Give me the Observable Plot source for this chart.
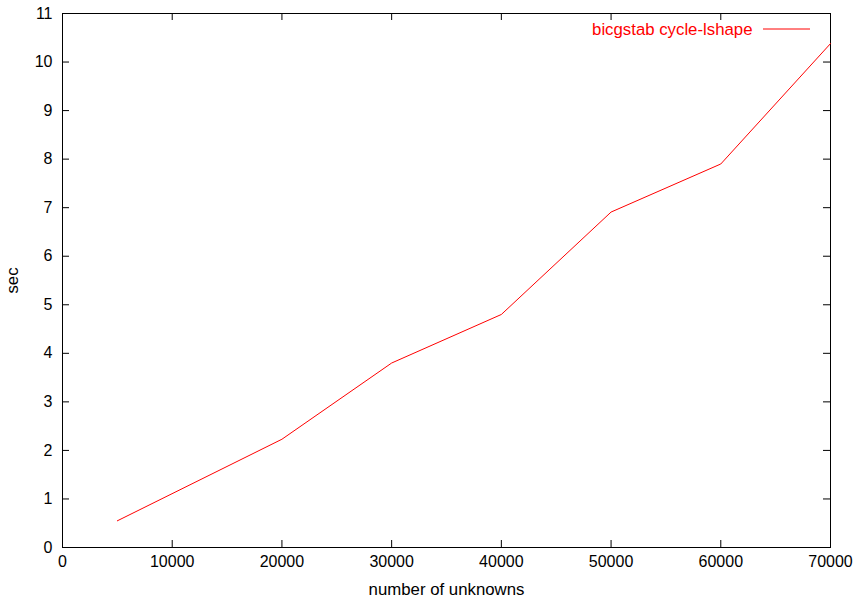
<!DOCTYPE html>
<html>
<head>
<meta charset="utf-8">
<script src="https://cdn.jsdelivr.net/npm/d3@7"></script>
<script src="https://cdn.jsdelivr.net/npm/@observablehq/plot@0.6"></script>
<style>
  html, body { margin: 0; padding: 0; background: #fff; }
  svg { display: block; }
</style>
</head>
<body>
<div id="chart"></div>
<script>
const unknowns = [5000, 20000, 30000, 40000, 50000, 60000, 70000];
const seconds = [0.55, 2.23, 3.80, 4.80, 6.91, 7.90, 10.38];
const xTicks = [0, 10000, 20000, 30000, 40000, 50000, 60000, 70000];
const yTicks = [0, 1, 2, 3, 4, 5, 6, 7, 8, 9, 10, 11];
const seriesName = "bicgstab cycle-lshape";

const data = unknowns.map((u, i) => ({x: u, y: seconds[i]}));

const W = 856, H = 599;
const mL = 62, mR = 26, mT = 13, mB = 52;
const pw = W - mL - mR, ph = H - mT - mB;
const tk = 7;

const plot = Plot.plot({
  width: W,
  height: H,
  marginLeft: mL,
  marginRight: mR,
  marginTop: mT,
  marginBottom: mB,
  style: {fontFamily: "'Liberation Sans', Arial, sans-serif", fontSize: "16px", background: "#fff", color: "#000"},
  x: {domain: [0, 70000]},
  y: {domain: [0, 11]},
  marks: [
    Plot.axisX(xTicks, {tickSize: 0, tickPadding: 8, tickFormat: d => String(d), fontSize: 16, label: null}),
    Plot.axisY(yTicks, {tickSize: 0, tickPadding: 10, tickFormat: d => String(d), fontSize: 16, label: null}),
    Plot.text(["number of unknowns"], {frameAnchor: "bottom", text: d => d, dy: 42, textAnchor: "middle", lineAnchor: "middle", fontSize: 16.8, fill: "#000"}),
    Plot.text(["sec"], {frameAnchor: "left", text: d => d, dx: -50, rotate: -90, textAnchor: "middle", lineAnchor: "middle", fontSize: 16.8, fill: "#000"}),
    Plot.tickX(xTicks, {x: d => d, insetTop: ph - tk, stroke: "#000"}),
    Plot.tickX(xTicks, {x: d => d, insetBottom: ph - tk, stroke: "#000"}),
    Plot.tickY(yTicks, {y: d => d, insetRight: pw - tk, stroke: "#000"}),
    Plot.tickY(yTicks, {y: d => d, insetLeft: pw - tk, stroke: "#000"}),
    Plot.frame({stroke: "#000", strokeWidth: 1}),
    Plot.line(data, {x: "x", y: "y", stroke: "#ff0000", strokeWidth: 1}),
    Plot.text([seriesName], {frameAnchor: "top-right", text: d => d, dx: -78, dy: 16, textAnchor: "end", lineAnchor: "middle", fill: "#ff0000", fontSize: 16.8})
  ]
});

// legend sample line
const svg = d3.select(plot);
svg.append("line")
  .attr("x1", W - mR - 67).attr("x2", W - mR - 20)
  .attr("y1", mT + 16).attr("y2", mT + 16)
  .attr("stroke", "#ff0000").attr("stroke-width", 1);

document.getElementById("chart").appendChild(plot);
</script>
</body>
</html>
